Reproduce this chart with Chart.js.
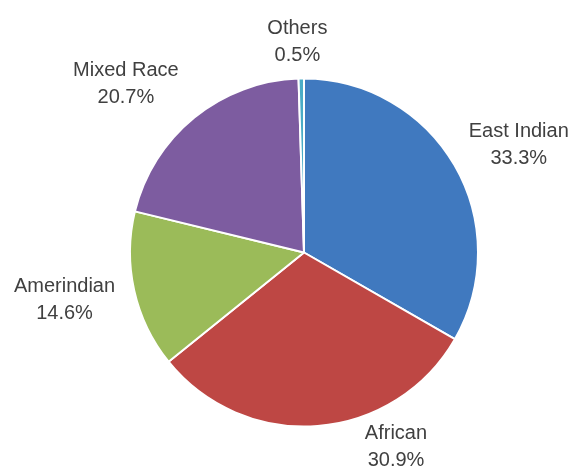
<!DOCTYPE html>
<html>
<head>
<meta charset="utf-8">
<script src="https://cdn.jsdelivr.net/npm/chart.js@4.4.1/dist/chart.umd.min.js"></script>
<style>
  html, body { margin: 0; padding: 0; background: #ffffff; }
  #wrap { width: 569px; height: 468px; }
</style>
</head>
<body>
<div id="wrap"><canvas id="pie" width="569" height="468"></canvas></div>
<script>
// Ethnic composition shares (percent)
const categories = ['East Indian', 'African', 'Amerindian', 'Mixed Race', 'Others'];
const shares = [33.3, 30.9, 14.6, 20.7, 0.5];
const sliceColors = ['#4079BF', '#BE4744', '#9BBB59', '#7D5CA0', '#4BACC6'];

// Label placement around the pie: distance in radii and angle nudge (degrees)
const labelPlacement = [
  { dist: 1.38, nudge: 3.5 },
  { dist: 1.237, nudge: -20.8 },
  { dist: 1.403, nudge: 1.4 },
  { dist: 1.41, nudge: -7.5 },
  { dist: 1.213, nudge: -0.9 }
];

const outsideLabels = {
  id: 'outsideLabels',
  afterDatasetsDraw(chart) {
    const ctx = chart.ctx;
    const meta = chart.getDatasetMeta(0);
    ctx.save();
    ctx.font = '20px "Liberation Sans", Arial, sans-serif';
    ctx.fillStyle = '#404040';
    ctx.textAlign = 'center';
    ctx.textBaseline = 'middle';
    meta.data.forEach((arc, i) => {
      const p = arc.getProps(['x', 'y', 'startAngle', 'endAngle', 'outerRadius'], true);
      const mid = (p.startAngle + p.endAngle) / 2 + labelPlacement[i].nudge * Math.PI / 180;
      const r = p.outerRadius * labelPlacement[i].dist;
      const x = p.x + Math.cos(mid) * r;
      const y = p.y + Math.sin(mid) * r;
      const value = chart.data.datasets[0].data[i];
      ctx.fillText(chart.data.labels[i], x, y - 13.5);
      ctx.fillText(value.toFixed(1) + '%', x, y + 13.5);
    });
    ctx.restore();
  }
};

new Chart(document.getElementById('pie'), {
  type: 'pie',
  data: {
    labels: categories,
    datasets: [{
      data: shares,
      backgroundColor: sliceColors,
      borderColor: '#ffffff',
      borderWidth: 2
    }]
  },
  options: {
    responsive: false,
    animation: false,
    layout: { padding: { left: 129, right: 90, top: 77, bottom: 40 } },
    plugins: {
      legend: { display: false },
      tooltip: { enabled: false }
    }
  },
  plugins: [outsideLabels]
});
</script>
</body>
</html>
